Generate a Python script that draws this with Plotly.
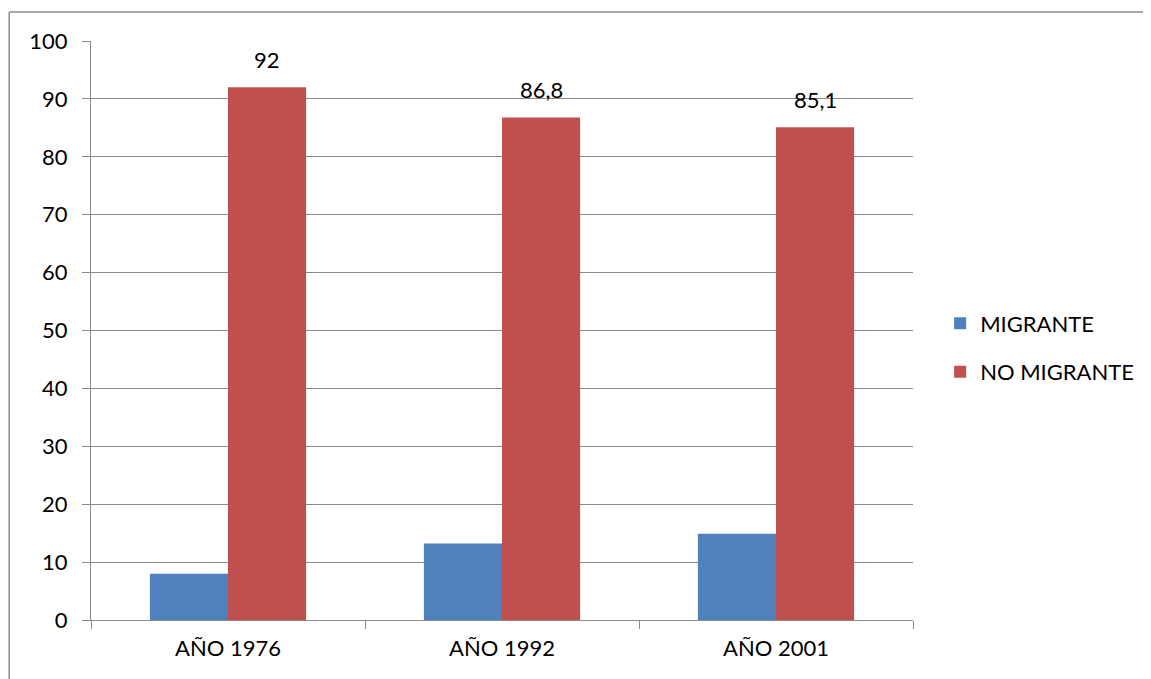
import plotly.graph_objects as go

categories = ["AÑO 1976", "AÑO 1992", "AÑO 2001"]
migrante = [8.0, 13.2, 14.9]
no_migrante = [92.0, 86.8, 85.1]
no_migrante_labels = ["92", "86,8", "85,1"]
y_ticks = [0, 10, 20, 30, 40, 50, 60, 70, 80, 90, 100]

FONT = "Lato"
FS = 22
GRID = "#8a8a8a"

fig = go.Figure()
fig.add_trace(go.Bar(name="MIGRANTE", x=categories, y=migrante,
                     marker=dict(color="#4F81BD", line=dict(width=0)),
                     legendgroup="a"))
fig.add_trace(go.Bar(name="NO MIGRANTE", x=categories, y=no_migrante,
                     marker=dict(color="#C0504D", line=dict(width=0)),
                     legendgroup="b"))

for c, v, t in zip(categories, no_migrante, no_migrante_labels):
    fig.add_annotation(x=c, y=v, text=t, showarrow=False, xref="x", yref="y",
                       yanchor="bottom", yshift=12, xshift=39,
                       font=dict(family=FONT, size=FS, color="#000"))

# outer chart frame (top and left edges visible)
fig.add_shape(type="line", xref="paper", yref="paper",
              x0=-0.0995, x1=1.5, y0=1.050, y1=1.050,
              line=dict(color="#8a8a8a", width=1.5), layer="below")
fig.add_shape(type="line", xref="paper", yref="paper",
              x0=-0.0995, x1=-0.0995, y0=-0.2, y1=1.050,
              line=dict(color="#8a8a8a", width=1.5), layer="below")

fig.update_layout(
    width=1143, height=671,
    margin=dict(l=83, r=235, t=33, b=59),
    paper_bgcolor="white", plot_bgcolor="white",
    barmode="group", bargap=0.43, bargroupgap=0,
    font=dict(family=FONT, size=FS, color="#000"),
    legend=dict(x=1.033, y=0.47, xanchor="left", yanchor="middle",
                traceorder="grouped", tracegroupgap=17,
                font=dict(family=FONT, size=FS, color="#000")),
    xaxis=dict(showgrid=False, showline=True, linecolor=GRID, linewidth=1.3,
               ticks="outside", ticklen=8, tickcolor=GRID, tickson="boundaries",
               tickfont=dict(family=FONT, size=FS), ticklabelstandoff=8),
    yaxis=dict(range=[0, 100], tickvals=y_ticks, showgrid=True, gridcolor=GRID,
               gridwidth=1.3, showline=True, linecolor=GRID, linewidth=1.3,
               ticks="outside", ticklen=8, tickcolor=GRID, zeroline=False,
               tickfont=dict(family=FONT, size=FS), ticklabelstandoff=10),
)

fig.write_html("out.html")
